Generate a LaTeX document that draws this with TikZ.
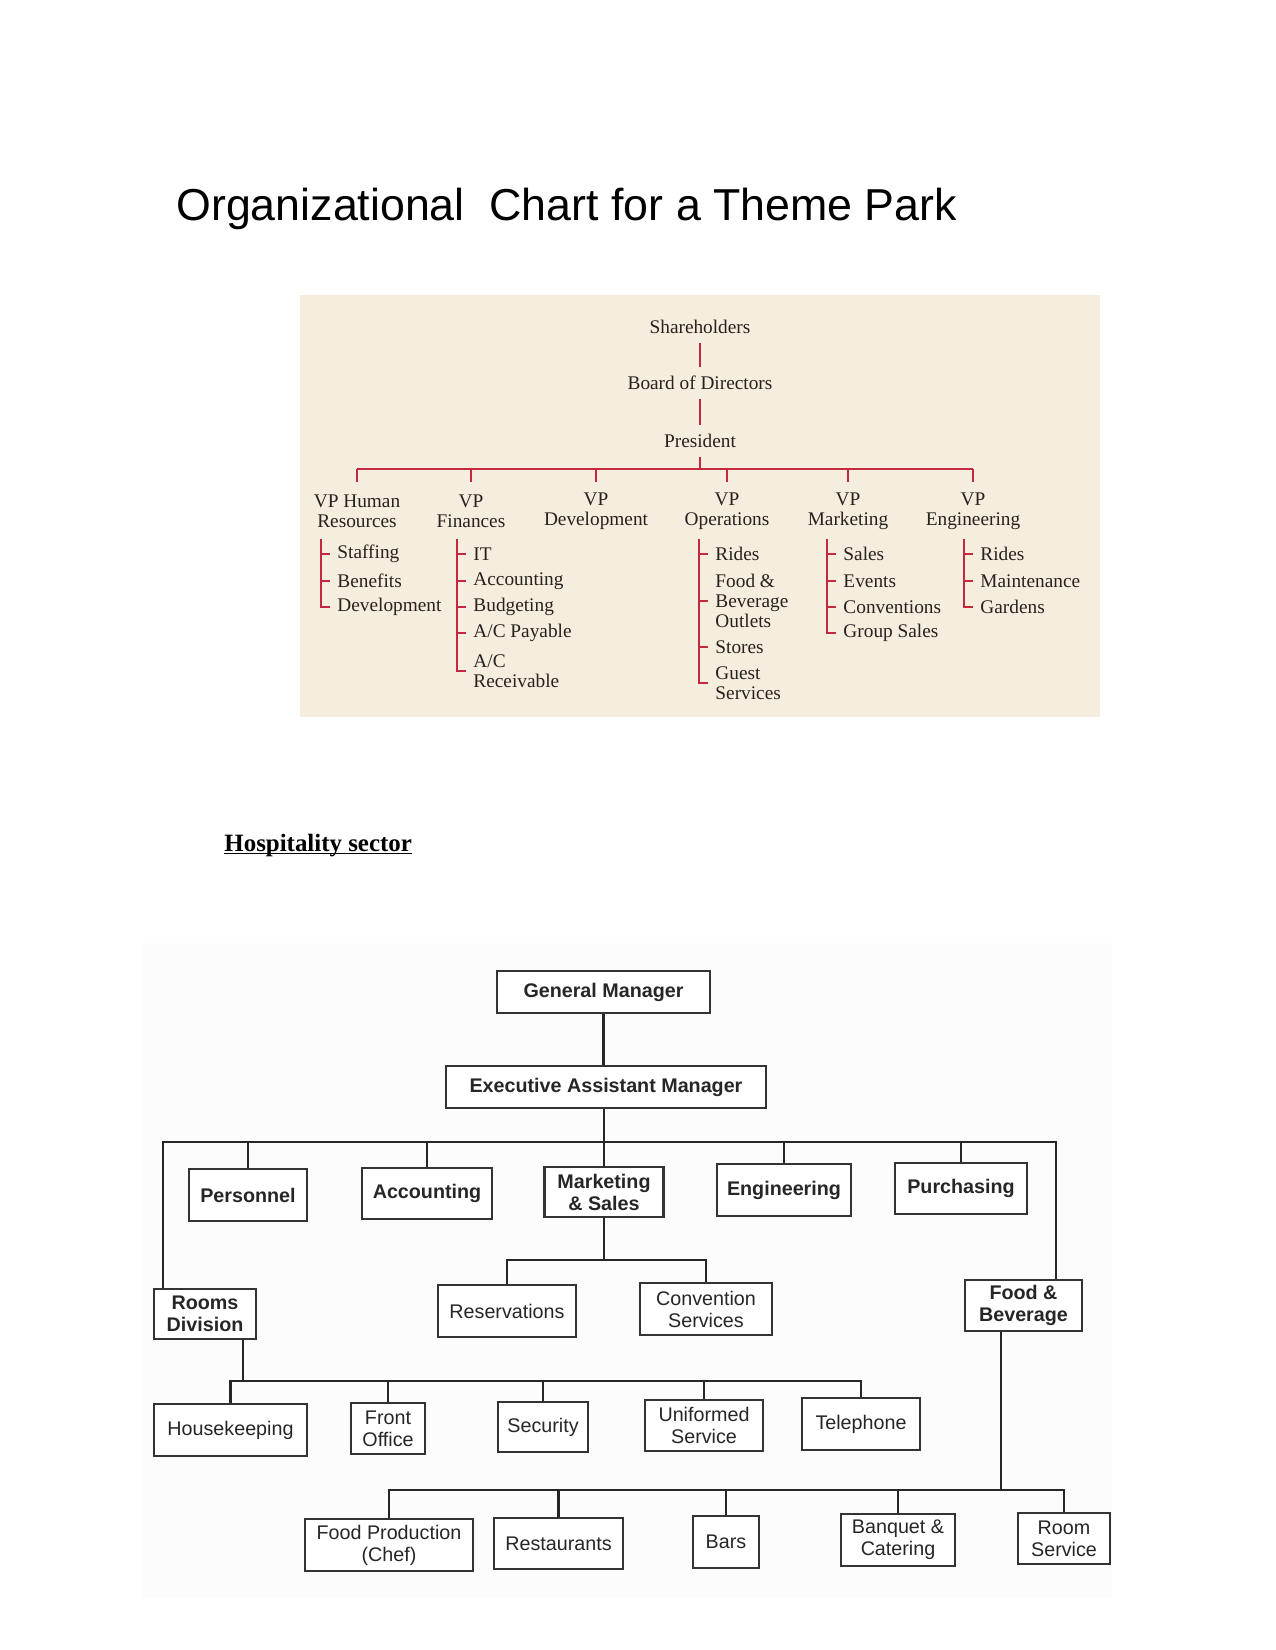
\documentclass[tikz,border=0pt]{standalone}
\usepackage{fontspec}
\setmainfont{Liberation Serif}
\setsansfont{Liberation Sans}
\usepackage{xcolor}
\usepackage{tikz}
\usetikzlibrary{positioning}

\definecolor{parkbg}{RGB}{245,237,222}
\definecolor{parkred}{RGB}{196,40,62}
\definecolor{parktext}{RGB}{38,34,30}
\definecolor{scanbg}{RGB}{252,252,252}

\begin{document}
\begin{tikzpicture}[
  x=0.4818pt, y=-0.4818pt,
  every node/.style={inner sep=0pt},
  tp/.style={font=\fontsize{9.3}{9.65}\selectfont, text=parktext, align=center},
  toplabel/.style={tp, inner ysep=4pt},
  item/.style={tp, anchor=west, align=left, inner xsep=3.4pt},
  redline/.style={draw=parkred, line width=1.1pt},
  deptbox/.style 2 args={draw=black!80, line width=1.1pt, fill=white,
    minimum width=#1*0.4818pt, minimum height=#2*0.4818pt, align=center,
    font=\sffamily\fontsize{9.5}{10.6}\selectfont, text=black!85},
  headbox/.style 2 args={deptbox={#1}{#2},
    font=\sffamily\bfseries\fontsize{9.5}{10.6}\selectfont},
  link/.style={draw=black!85, line width=1pt}
]
\useasboundingbox (0,0) rectangle (1275,1650);

% TITLE
\node[anchor=base west, font=\sffamily\fontsize{21.55}{24}\selectfont] (title) at (176,221)
  {Organizational~ Chart for a Theme Park};

% THEME PARK
\fill[parkbg] (300,295) rectangle (1100,717);

\node[toplabel] (share) at (700,327) {Shareholders};
\node[toplabel] (board) at (700,383) {Board of Directors};
\node[toplabel] (pres) at (700,441) {President};

\draw[redline] (share) -- (board);
\draw[redline] (board) -- (pres);

\node[tp] (vphr) at (357,511) {VP Human\\Resources};
\node[tp] (vpfin) at (471,511) {VP\\Finances};
\node[tp] (vpdev) at (596,511) {VP\\Development};
\node[tp] (vpops) at (727,511) {VP\\Operations};
\node[tp] (vpmkt) at (848,511) {VP\\Marketing};
\node[tp] (vpeng) at (973,511) {VP\\Engineering};

\coordinate (tbus) at (700,469);
\draw[redline] (pres) -- (tbus);
\draw[redline] (vphr |- tbus) -- (vpeng |- tbus);
\foreach \n in {vphr,vpfin,vpdev,vpops,vpmkt,vpeng}
  \draw[redline] (\n |- tbus) -- ++(0,13);

% human resources
\node[item] (hr1) at (330,554) {Staffing};
\node[item] (hr2) at (330,581) {Benefits};
\node[item] (hr3) at (330,607) {Development};
\coordinate (hrtop) at (321,539);
\draw[redline] (hrtop) |- (hr3.west);
\foreach \i in {1,2}
  \draw[redline] (hrtop |- hr\i.west) -- (hr\i.west);

% finances
\node[item] (fin1) at (466,554) {IT};
\node[item] (fin2) at (466,581) {Accounting};
\node[item] (fin3) at (466,607) {Budgeting};
\node[item] (fin4) at (466,633) {A/C Payable};
\node[item] (fin5) at (466,671) {A/C\\Receivable};
\coordinate (fintop) at (457,539);
\draw[redline] (fintop) |- (fin5.west);
\foreach \i in {1,...,4}
  \draw[redline] (fintop |- fin\i.west) -- (fin\i.west);

% operations
\node[item] (ops1) at (708,554) {Rides};
\node[item] (ops2) at (708,601) {Food \&\\Beverage\\Outlets};
\node[item] (ops3) at (708,647) {Stores};
\node[item] (ops4) at (708,683) {Guest\\Services};
\coordinate (opstop) at (699,539);
\draw[redline] (opstop) |- (ops4.west);
\foreach \i in {1,2,3}
  \draw[redline] (opstop |- ops\i.west) -- (ops\i.west);

% marketing
\node[item] (mkt1) at (836,554) {Sales};
\node[item] (mkt2) at (836,581) {Events};
\node[item] (mkt3) at (836,607) {Conventions};
\node[item] (mkt4) at (836,633) {Group Sales};
\coordinate (mkttop) at (827,539);
\draw[redline] (mkttop) |- (mkt4.west);
\foreach \i in {1,2,3}
  \draw[redline] (mkttop |- mkt\i.west) -- (mkt\i.west);

% engineering
\node[item] (eng1) at (973,554) {Rides};
\node[item] (eng2) at (973,581) {Maintenance};
\node[item] (eng3) at (973,607) {Gardens};
\coordinate (engtop) at (964,539);
\draw[redline] (engtop) |- (eng3.west);
\foreach \i in {1,2}
  \draw[redline] (engtop |- eng\i.west) -- (eng\i.west);

% HOSPITALITY
\node[anchor=base west, font=\bfseries\fontsize{12}{14}\selectfont] (hosp) at (224,851)
  {Hospitality sector};
\draw[line width=0.6pt] ([yshift=-1.3pt]hosp.base west) -- ([yshift=-1.3pt]hosp.base east);

\fill[scanbg] (143,943) rectangle (1112,1598);

% TOP LEVEL
\node[headbox={213}{42}] (gm) at (603.5,992) {General Manager};
\node[headbox={320}{42}] (eam) at (606,1087) {Executive Assistant Manager};

\draw[link] (gm.south) -- (gm.south |- eam.north);

% DEPARTMENTS
\node[headbox={118}{52}] (personnel) at (248,1195) {Personnel};
\node[headbox={130}{51}] (accounting) at (427,1193.5) {Accounting};
\node[headbox={119}{50}] (marketing) at (604,1192) {Marketing\\\& Sales};
\node[headbox={134}{52}] (engineering) at (784,1190) {Engineering};
\node[headbox={132}{51}] (purchasing) at (961,1188.5) {Purchasing};
\node[headbox={102}{50}] (rooms) at (205,1314) {Rooms\\Division};
\node[headbox={117}{51}] (fnb) at (1023.5,1305.5) {Food \&\\Beverage};

\coordinate (busl) at (163,1142);
\coordinate (busr) at (1056,1142);
\draw[link] (eam.south -| marketing) -- (marketing);
\draw[link] (rooms.north -| busl) -- (busl) -- (busr) -- (fnb.north -| busr);
\foreach \n in {personnel,accounting,engineering,purchasing}
  \draw[link] (\n.north) -- (\n.north |- busl);

% MARKETING
\node[deptbox={138}{52}] (reservations) at (507,1311) {Reservations};
\node[deptbox={132}{52}] (convention) at (706,1309) {Convention\\Services};

\coordinate (busm) at (604,1260);
\draw[link] (marketing) -- (busm);
\draw[link] (reservations.north) |- (busm) -| (convention.north);

% ROOMS DIVISION
\node[deptbox={153}{52}] (housekeeping) at (230.5,1430) {Housekeeping};
\node[deptbox={74}{51}] (frontoffice) at (388,1428.5) {Front\\Office};
\node[deptbox={90}{50}] (security) at (543,1427) {Security};
\node[deptbox={118}{51}] (uniformed) at (704,1425.5) {Uniformed\\Service};
\node[deptbox={118}{52}] (telephone) at (861,1424) {Telephone};

\coordinate (busrd) at (243,1381);
\draw[link] (busrd |- rooms.south) -- (busrd);
\draw[link] (housekeeping.north) |- (busrd) -| (telephone.north);
\foreach \n in {frontoffice,security,uniformed}
  \draw[link] (\n.north) -- (\n.north |- busrd);

% FOOD AND BEVERAGE
\node[deptbox={168}{52}] (foodprod) at (389,1545) {Food Production\\(Chef)};
\node[deptbox={129}{51}] (restaurants) at (558.5,1543.5) {Restaurants};
\node[deptbox={66}{52}] (bars) at (726,1542) {Bars};
\node[deptbox={114}{52}] (banquet) at (898,1540) {Banquet \&\\Catering};
\node[deptbox={92}{51}] (roomservice) at (1064,1538.5) {Room\\Service};

\coordinate (busfb) at (1001,1490);
\draw[link] (busfb |- fnb.south) -- (busfb);
\draw[link] (foodprod.north) |- (busfb) -| (roomservice.north);
\foreach \n in {restaurants,bars,banquet}
  \draw[link] (\n.north) -- (\n.north |- busfb);

\end{tikzpicture}
\end{document}
